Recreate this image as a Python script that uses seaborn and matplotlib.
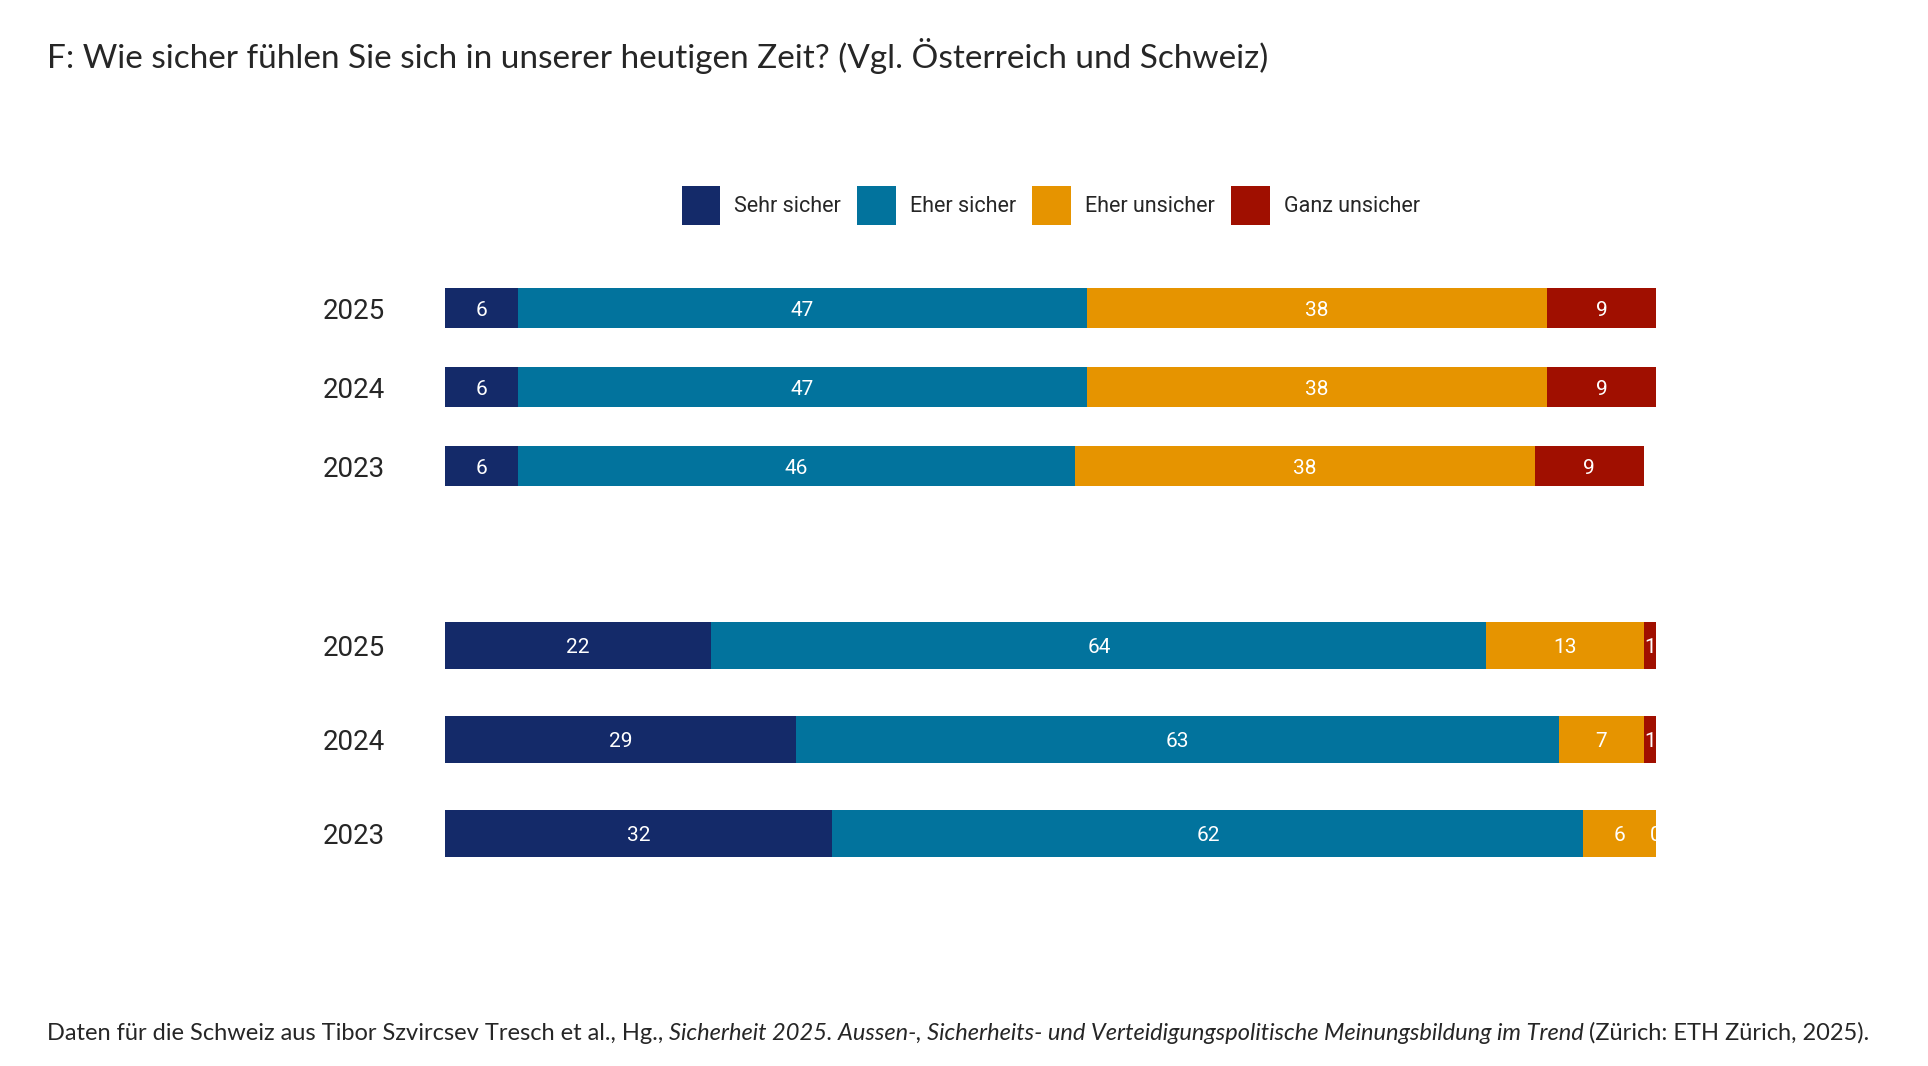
import matplotlib
matplotlib.use("Agg")
import matplotlib.pyplot as plt
import seaborn as sns
import pandas as pd
from matplotlib.patches import Patch

# Data
years = ["2025", "2024", "2023"]
answers = ["Sehr sicher", "Eher sicher", "Eher unsicher", "Ganz unsicher"]
colors = ["#142a69", "#02739d", "#e69400", "#a00f00"]

# Österreich (oberer Block)
at_sehr_sicher = [6, 6, 6]
at_eher_sicher = [47, 47, 46]
at_eher_unsicher = [38, 38, 38]
at_ganz_unsicher = [9, 9, 9]

# Schweiz (unterer Block)
ch_sehr_sicher = [22, 29, 32]
ch_eher_sicher = [64, 63, 62]
ch_eher_unsicher = [13, 7, 6]
ch_ganz_unsicher = [1, 1, 0]

title = "F: Wie sicher fühlen Sie sich in unserer heutigen Zeit? (Vgl. Österreich und Schweiz)"
source_parts = [
    ("Daten für die Schweiz aus Tibor Szvircsev Tresch et al., Hg.,", "normal"),
    ("Sicherheit 2025. Aussen-, Sicherheits- und Verteidigungspolitische Meinungsbildung im Trend", "italic"),
    ("(Zürich: ETH Zürich, 2025).", "normal"),
]

sns.set_style("white")
plt.rcParams["font.family"] = ["Roboto", "DejaVu Sans"]

fig = plt.figure(figsize=(19.28, 10.66), dpi=100)
ax_at = fig.add_axes([0.2308, 0.5258, 0.6281, 0.2223])
ax_ch = fig.add_axes([0.2308, 0.1740, 0.6281, 0.2645])


def stacked(ax, values):
    df = pd.DataFrame(dict(zip(answers, values)), index=years)
    cum = df.cumsum(axis=1)
    # draw from the right end backwards so each segment covers the previous one
    for answer, color in reversed(list(zip(answers, colors))):
        sns.barplot(x=cum[answer].values, y=years, orient="h", color=color,
                    width=0.5, saturation=1, linewidth=0, ax=ax)
    for i, year in enumerate(years):
        for answer in answers:
            v = df.loc[year, answer]
            ax.text(cum.loc[year, answer] - v / 2, i, str(v), ha="center",
                    va="center_baseline", color="white", fontsize=15, clip_on=True)
    ax.set_xlim(0, 100)
    ax.set_xticks([])
    ax.set_xlabel("")
    ax.set_ylabel("")
    ax.tick_params(axis="y", length=0, pad=43, labelsize=20)
    sns.despine(ax=ax, left=True, bottom=True)


stacked(ax_at, [at_sehr_sicher, at_eher_sicher, at_eher_unsicher, at_ganz_unsicher])
stacked(ax_ch, [ch_sehr_sicher, ch_eher_sicher, ch_eher_unsicher, ch_ganz_unsicher])

# Legend
handles = [Patch(facecolor=c, edgecolor="none") for c in colors]
fig.legend(handles, answers, loc="center", bbox_to_anchor=(0.545, 0.807), ncol=4,
           frameon=False, fontsize=15.5, handlelength=1.8, handleheight=2.4,
           handletextpad=0.65, columnspacing=0.75)

# Title
fig.text(0.0244, 0.936, title, family="Lato", fontsize=24, va="baseline")

# Source line, pieces chained one after another
foot_size = 17
prev = fig.text(0.0244, 0.0244, source_parts[0][0], family="Lato",
                fontsize=foot_size, style=source_parts[0][1], va="baseline")
for text, style in source_parts[1:]:
    prev = plt.annotate(
        text, xy=(1, 0), xycoords=prev, xytext=(foot_size * 0.23, 0),
        textcoords="offset points", family="Lato", fontsize=foot_size,
        style=style, va="bottom", annotation_clip=False)

fig.savefig("out.png", dpi=100)
